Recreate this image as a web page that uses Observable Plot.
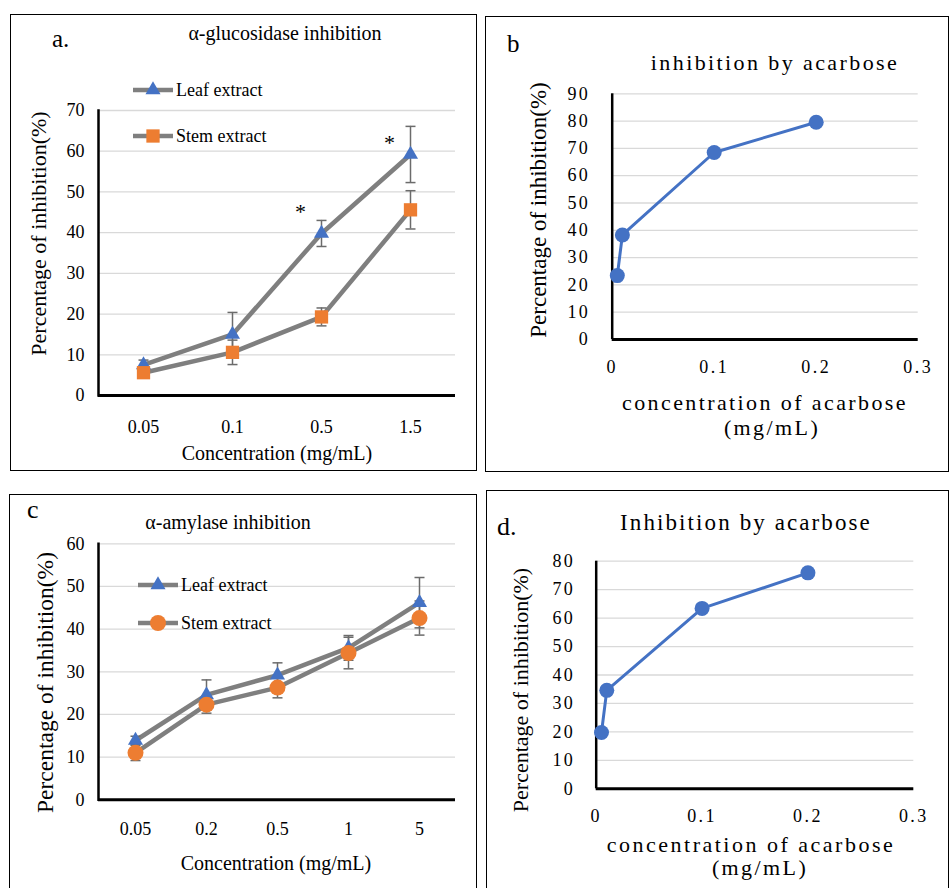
<!DOCTYPE html>
<html><head><meta charset="utf-8">
<script src="https://cdn.jsdelivr.net/npm/d3@7"></script>
<script src="https://cdn.jsdelivr.net/npm/@observablehq/plot@0.6"></script>
<style>
html,body{margin:0;padding:0;background:#fff;}
#root{position:relative;width:950px;height:888px;overflow:hidden;background:#fff;}
#root svg, #root text{font-family:"Liberation Serif","Times New Roman",serif !important;}
.box{position:absolute;border:1.6px solid #000;box-sizing:border-box;}
.plot{position:absolute;}
.plot svg{max-width:none !important;}
#overlay{position:absolute;left:0;top:0;pointer-events:none;}
</style></head><body><div id="root"></div>
<script>
// ---------- data ----------
const glucCats = ["0.05", "0.1", "0.5", "1.5"];
const glucLeaf = [7.5, 15.0, 39.8, 59.2];
const glucLeafErr = [1.2, 5.4, 3.2, 6.9];
const glucStem = [5.6, 10.6, 19.3, 45.6];
const glucStemErr = [0.8, 3.0, 2.2, 4.7];
const glucSig = ["", "", "*", "*"];
const glucSigY = [null, null, 46.0, 63.0];
const glucYTicks = [0, 10, 20, 30, 40, 50, 60, 70];

const amyCats = ["0.05", "0.2", "0.5", "1", "5"];
const amyLeaf = [13.9, 24.6, 29.2, 35.6, 46.2];
const amyLeafErr = [1.0, 3.5, 2.9, 2.9, 5.9];
const amyStem = [11.0, 22.3, 26.3, 34.4, 42.6];
const amyStemErr = [1.8, 2.0, 2.4, 3.7, 4.0];
const amyYTicks = [0, 10, 20, 30, 40, 50, 60];

const acarConcB = [0.005, 0.01, 0.1, 0.2];
const acarValB = [23.4, 38.3, 68.5, 79.6];
const acarYTicksB = [0, 10, 20, 30, 40, 50, 60, 70, 80, 90];

const acarConcD = [0.005, 0.01, 0.1, 0.2];
const acarValD = [19.8, 34.6, 63.4, 75.9];
const acarYTicksD = [0, 10, 20, 30, 40, 50, 60, 70, 80];

const acarXTicks = [0, 0.1, 0.2, 0.3];
const acarXLabels = ["0", "0.1", "0.2", "0.3"];

// ---------- styles ----------
const GRAYLINE = "#7f7f7f", BLUE = "#4472c4", ORANGE = "#ed7d31", ERR = "#6b6b6b", GRID = "#d9d9d9";
const SERIF = "'Liberation Serif','Times New Roman',serif";

const toRows = (cats, vals, errs) => cats.map((c, i) => ({c, v: vals[i], e: errs ? errs[i] : 0}));
const cap = {draw(ctx) { ctx.moveTo(-5, 0); ctx.lineTo(5, 0); }};

function seriesMarks(rows) {
  return [
    Plot.ruleX(rows, {x: "c", y1: d => d.v - d.e, y2: d => d.v + d.e, stroke: ERR, strokeWidth: 1.5}),
    Plot.dot(rows, {x: "c", y: d => d.v + d.e, symbol: cap, stroke: ERR, fill: "none", strokeWidth: 1.5}),
    Plot.dot(rows, {x: "c", y: d => d.v - d.e, symbol: cap, stroke: ERR, fill: "none", strokeWidth: 1.5}),
  ];
}

const root = document.getElementById("root");
function addBox(l, t, w, h) {
  const b = document.createElement("div");
  b.className = "box";
  Object.assign(b.style, {left: l + "px", top: t + "px", width: w + "px", height: h + "px"});
  root.appendChild(b);
}
function addPlot(l, t, w, h, svg) {
  const d = document.createElement("div");
  d.className = "plot";
  Object.assign(d.style, {left: l + "px", top: t + "px", width: w + "px", height: h + "px"});
  d.appendChild(svg);
  root.appendChild(d);
}

addBox(10, 14, 467, 457);
addBox(485, 16, 464, 456);
addBox(9, 494, 468, 410);
addBox(486, 490, 463, 410);

// ---------- panel a ----------
const leafA = toRows(glucCats, glucLeaf, glucLeafErr);
const stemA = toRows(glucCats, glucStem, glucStemErr);
const sigA = glucCats.map((c, i) => ({c, s: glucSig[i], y: glucSigY[i]})).filter(d => d.s);
const plotA = Plot.plot({
  width: 467, height: 456, marginLeft: 88, marginRight: 22, marginTop: 95, marginBottom: 76,
  style: {fontFamily: SERIF, fontSize: "18px", background: "transparent", color: "#000"},
  x: {type: "point", domain: glucCats, padding: 0.5},
  y: {domain: [0, 70]},
  marks: [
    Plot.gridY(glucYTicks, {stroke: GRID, strokeOpacity: 1, strokeWidth: 1.3}),
    Plot.axisY(glucYTicks, {tickSize: 0, tickPadding: 14, label: null}),
    Plot.axisX({tickSize: 0, tickPadding: 25, label: null}),
    Plot.frame({anchor: "left", stroke: "#000", strokeWidth: 2.5}),
    Plot.ruleY([0], {stroke: "#000", strokeWidth: 3}),
    Plot.line(leafA, {x: "c", y: "v", stroke: GRAYLINE, strokeWidth: 4.5}),
    Plot.line(stemA, {x: "c", y: "v", stroke: GRAYLINE, strokeWidth: 4.5}),
    ...seriesMarks(leafA),
    ...seriesMarks(stemA),
    Plot.dot(leafA, {x: "c", y: "v", symbol: "triangle", r: 5.6, fill: BLUE, stroke: "none"}),
    Plot.dot(stemA, {x: "c", y: "v", symbol: "square", r: 7.5, fill: ORANGE, stroke: "none"}),
    Plot.text(sigA, {x: "c", y: "y", text: "s", dx: -21, dy: 4, fontSize: 22})
  ]
});
addPlot(10, 15, 467, 456, plotA);

// ---------- panel b ----------
const rowsB = acarConcB.map((x, i) => ({x, y: acarValB[i]}));
const plotB = Plot.plot({
  width: 463, height: 455, marginLeft: 126.7, marginRight: 30.3, marginTop: 76.3, marginBottom: 133,
  style: {fontFamily: SERIF, fontSize: "18px", letterSpacing: "2.4px", background: "transparent", color: "#000"},
  x: {domain: [0, 0.3]},
  y: {domain: [0, 90]},
  marks: [
    Plot.gridY(acarYTicksB, {stroke: GRID, strokeOpacity: 1, strokeWidth: 1.3}),
    Plot.axisY(acarYTicksB, {tickSize: 0, tickPadding: 22, label: null}),
    Plot.axisX(acarXTicks, {tickSize: 0, tickPadding: 21, label: null, tickFormat: (d, i) => acarXLabels[i]}),
    Plot.ruleX([0], {stroke: "#000", strokeWidth: 2.5}),
    Plot.ruleY([0], {stroke: "#000", strokeWidth: 3}),
    Plot.line(rowsB, {x: "x", y: "y", stroke: BLUE, strokeWidth: 3}),
    Plot.dot(rowsB, {x: "x", y: "y", r: 7.5, fill: BLUE, stroke: "none"})
  ]
});
addPlot(485, 17, 463, 455, plotB);

// ---------- panel c ----------
const leafC = toRows(amyCats, amyLeaf, amyLeafErr);
const stemC = toRows(amyCats, amyStem, amyStemErr);
const plotC = Plot.plot({
  width: 466, height: 393, marginLeft: 88, marginRight: 21, marginTop: 48.3, marginBottom: 88.7,
  style: {fontFamily: SERIF, fontSize: "18px", background: "transparent", color: "#000"},
  x: {type: "point", domain: amyCats, padding: 0.5},
  y: {domain: [0, 60]},
  marks: [
    Plot.gridY(amyYTicks, {stroke: GRID, strokeOpacity: 1, strokeWidth: 1.3}),
    Plot.axisY(amyYTicks, {tickSize: 0, tickPadding: 14, label: null}),
    Plot.axisX({tickSize: 0, tickPadding: 22, label: null}),
    Plot.frame({anchor: "left", stroke: "#000", strokeWidth: 2.5}),
    Plot.ruleY([0], {stroke: "#000", strokeWidth: 3}),
    Plot.line(leafC, {x: "c", y: "v", stroke: GRAYLINE, strokeWidth: 4.5}),
    Plot.line(stemC, {x: "c", y: "v", stroke: GRAYLINE, strokeWidth: 4.5}),
    ...seriesMarks(leafC),
    ...seriesMarks(stemC),
    Plot.dot(leafC, {x: "c", y: "v", symbol: "triangle", r: 5.6, fill: BLUE, stroke: "none"}),
    Plot.dot(stemC, {x: "c", y: "v", r: 8, fill: ORANGE, stroke: "none"})
  ]
});
addPlot(10, 495, 466, 393, plotC);

// ---------- panel d ----------
const rowsD = acarConcD.map((x, i) => ({x, y: acarValD[i]}));
const plotD = Plot.plot({
  width: 461, height: 397, marginLeft: 108.7, marginRight: 34.7, marginTop: 69.7, marginBottom: 99.7,
  style: {fontFamily: SERIF, fontSize: "18px", letterSpacing: "2.4px", background: "transparent", color: "#000"},
  x: {domain: [0, 0.3]},
  y: {domain: [0, 80]},
  marks: [
    Plot.gridY(acarYTicksD, {stroke: GRID, strokeOpacity: 1, strokeWidth: 1.3}),
    Plot.axisY(acarYTicksD, {tickSize: 0, tickPadding: 21, label: null}),
    Plot.axisX(acarXTicks, {tickSize: 0, tickPadding: 20, label: null, tickFormat: (d, i) => acarXLabels[i]}),
    Plot.ruleX([0], {stroke: "#000", strokeWidth: 2.5}),
    Plot.ruleY([0], {stroke: "#000", strokeWidth: 3}),
    Plot.line(rowsD, {x: "x", y: "y", stroke: BLUE, strokeWidth: 3}),
    Plot.dot(rowsD, {x: "x", y: "y", r: 7.5, fill: BLUE, stroke: "none"})
  ]
});
addPlot(487, 491, 461, 397, plotD);

// ---------- overlay text ----------
const ov = d3.select(root).append("svg").attr("id", "overlay").attr("width", 950).attr("height", 888)
  .attr("font-family", SERIF).style("fill", "#000");
function txt(x, y, s, size, anchor = "middle", ls = 0, rot = false) {
  const t = ov.append("text").attr("font-size", size).attr("text-anchor", anchor)
    .attr("font-family", SERIF).text(s);
  if (ls) t.attr("letter-spacing", ls);
  if (rot) t.attr("transform", `translate(${x},${y}) rotate(-90)`);
  else t.attr("x", x).attr("y", y);
  return t;
}
// a
txt(52, 47, "a.", 25, "start");
txt(285, 40, "α-glucosidase inhibition", 20);
txt(277, 460, "Concentration (mg/mL)", 20);
txt(46, 233.5, "Percentage of inhibition(%)", 22, "middle", 0, true);
// b
txt(507, 52, "b", 25, "start");
txt(775, 70, "inhibition by acarbose", 22, "middle", 2.4);
txt(765, 410, "concentration of acarbose", 22, "middle", 2.4);
txt(772, 435, "(mg/mL)", 22, "middle", 2.4);
txt(546, 210, "Percentage of inhibition(%)", 23, "middle", 0, true);
// c
txt(27, 518, "c", 26, "start");
txt(228, 529, "α-amylase inhibition", 20);
txt(276, 870, "Concentration (mg/mL)", 20);
txt(53, 682.5, "Percentage of inhibition(%)", 23.5, "middle", 0, true);
// d
txt(497, 535, "d.", 26, "start");
txt(746, 530, "Inhibition by acarbose", 23, "middle", 2.1);
txt(751, 852, "concentration of acarbose", 22, "middle", 2.5);
txt(760, 875, "(mg/mL)", 22, "middle", 2.4);
txt(528, 690, "Percentage of inhibition(%)", 22, "middle", 0, true);

// legends
const triPath = d3.symbol(d3.symbolTriangle, 5.6 * 5.6 * Math.PI)();
const sqPath = d3.symbol(d3.symbolSquare, 7.5 * 7.5 * Math.PI)();
const circPath = d3.symbol(d3.symbolCircle, 8 * 8 * Math.PI)();
function legendItem(x0, x1, y, path, color, label) {
  ov.append("line").attr("x1", x0).attr("x2", x1).attr("y1", y).attr("y2", y)
    .attr("stroke", GRAYLINE).attr("stroke-width", 4.5);
  ov.append("path").attr("d", path).attr("fill", color).attr("transform", `translate(${(x0 + x1) / 2},${y})`);
  txt(x1 + 3, y + 6, label, 18, "start");
}
legendItem(133, 173, 90, triPath, BLUE, "Leaf extract");
legendItem(133, 173, 136, sqPath, ORANGE, "Stem extract");
legendItem(138, 178, 585, triPath, BLUE, "Leaf extract");
legendItem(138, 178, 623, circPath, ORANGE, "Stem extract");
</script></body></html>
